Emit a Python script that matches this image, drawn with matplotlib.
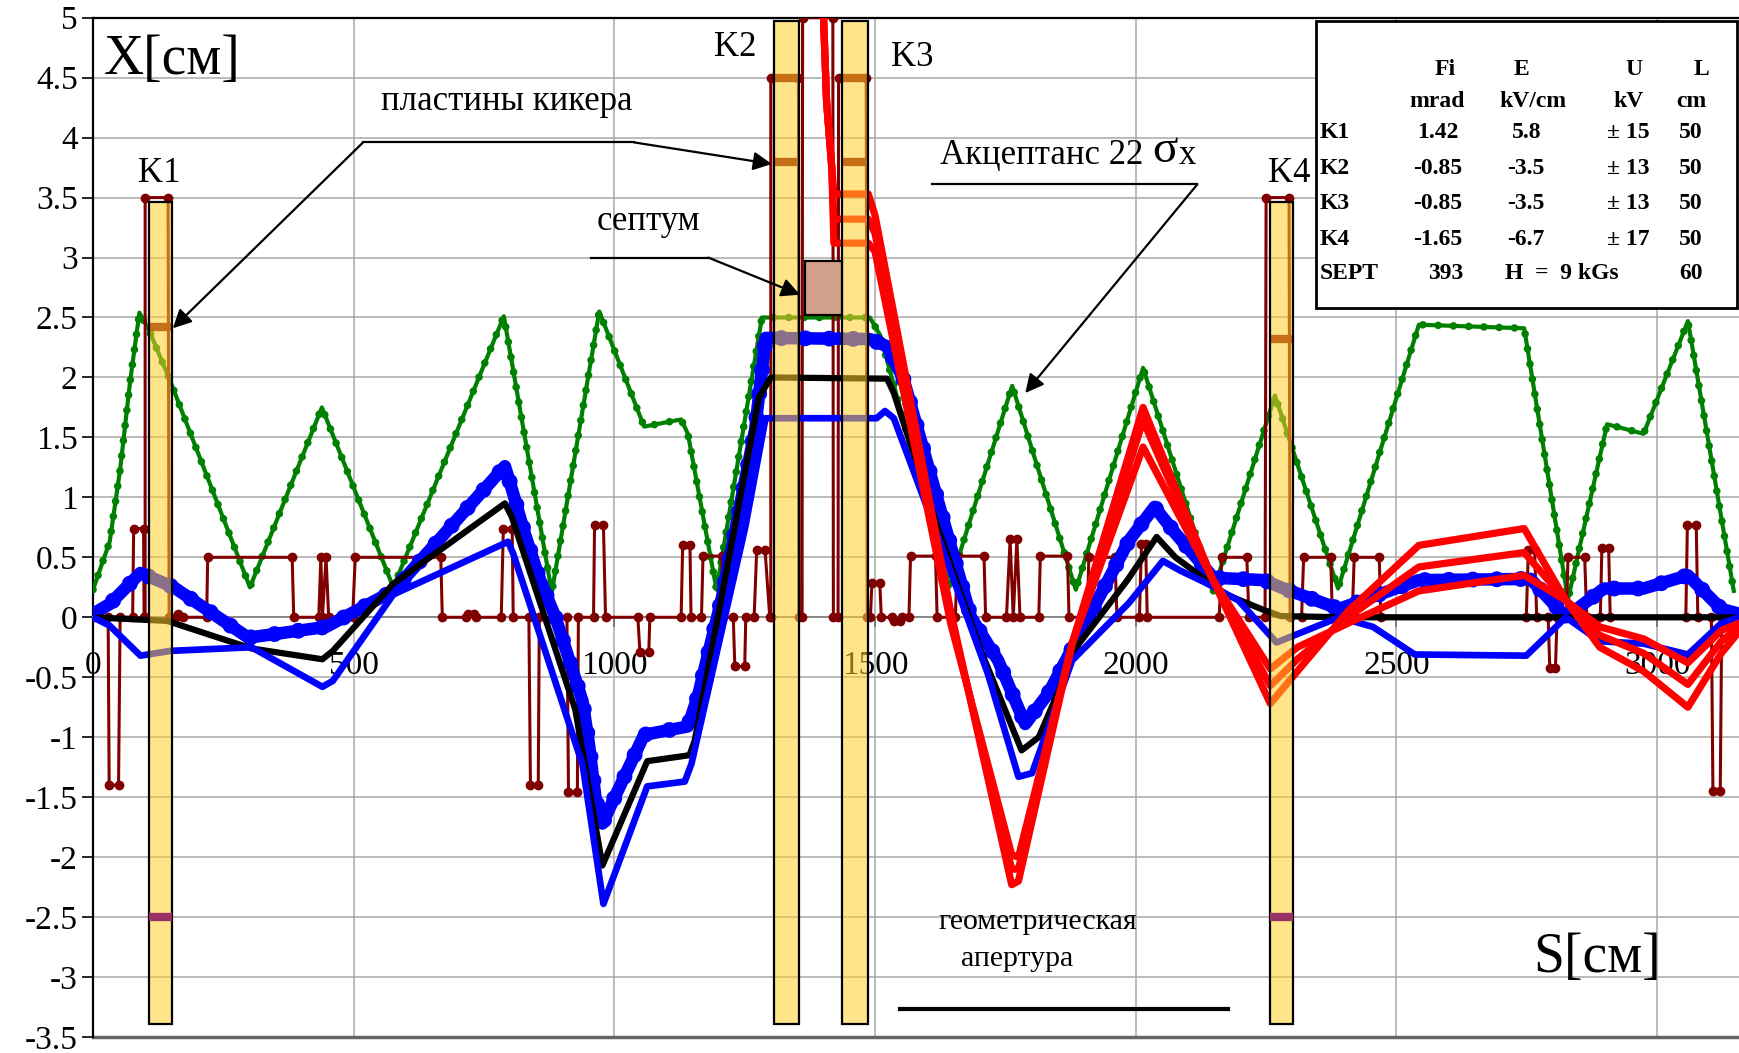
import numpy as np
import matplotlib.pyplot as plt
from matplotlib.patches import Rectangle

plt.rcParams['font.family'] = ['Liberation Serif', 'DejaVu Serif']
plt.rcParams['axes.unicode_minus'] = False

# ---------- данные (S в см, X в см) ----------
# аксептанс 22 sigma_x
acc_s = [0, 32, 52, 71, 89, 107, 149, 301, 439, 576, 788, 880, 971, 1057, 1128, 1141, 1196,
         1283, 1490, 1510, 1642, 1763, 1885, 2014, 2149, 2267, 2388, 2543, 2745, 2829, 2904,
         2974, 3059, 3147]
acc_x = [0.23, 0.63, 1.23, 1.96, 2.54, 2.40, 1.96, 0.25, 1.75, 0.25, 2.51, 0.21, 2.55, 1.59,
         1.65, 1.53, 0.23, 2.50, 2.50, 2.35, 0.25, 1.93, 0.23, 2.08, 0.22, 1.85, 0.24, 2.44,
         2.41, 0.15, 1.61, 1.53, 2.47, 0.22]

# структура (магниты, кикеры, септум)
lat_s = [0, 29, 31, 49, 52, 76, 78, 97, 98, 100, 100, 144, 146, 160, 163, 172, 218, 220, 382,
         385, 433, 437, 440, 447, 452, 498, 503, 667, 670, 716, 720, 731, 735, 783, 787, 804,
         806, 836, 839, 854, 856, 909, 912, 929, 931, 960, 962, 979, 983, 1045, 1049, 1066,
         1068, 1128, 1131, 1145, 1147, 1167, 1170, 1206, 1208, 1228, 1231, 1250, 1252, 1268,
         1273, 1289, 1298, 1300, 1300, 1353, 1354, 1360, 1361, 1419, 1420, 1429, 1430, 1483,
         1485, 1491, 1494, 1509, 1512, 1533, 1537, 1547, 1551, 1565, 1568, 1616, 1619, 1654,
         1658, 1709, 1712, 1752, 1759, 1765, 1772, 1778, 1814, 1817, 1869, 1872, 1907, 1910,
         1960, 1964, 2007, 2011, 2019, 2022, 2160, 2165, 2213, 2217, 2248, 2250, 2294, 2296,
         2318, 2322, 2374, 2377, 2415, 2419, 2467, 2470, 2749, 2753, 2765, 2769, 2791, 2794,
         2805, 2808, 2826, 2829, 2861, 2865, 2891, 2894, 2907, 2910, 3055, 3058, 3075, 3078,
         3104, 3107, 3121, 3124, 3157]
lat_x = [0, 0, -1.40, -1.40, 0, 0, 0.74, 0.74, 0, 0, 3.5, 3.5, 0, 0, 0.03, 0, 0, 0.5, 0.5,
         0, 0, 0.5, 0, 0.5, 0, 0, 0.5, 0.5, 0, 0, 0.03, 0.03, 0, 0, 0.74, 0.74,
         0, 0, -1.40, -1.40, 0, 0, -1.46, -1.46, 0, 0, 0.77, 0.77, 0, 0, -0.29, -0.29,
         0, 0, 0.6, 0.6, 0, 0, 0.51, 0.51, 0, 0, -0.41, -0.41, 0, 0,
         0.56, 0.56, 0, 0, 4.5, 4.5, 0, 0, 5.0, 5.0, 0, 0, 4.5, 4.5,
         0, 0, 0.29, 0.29, 0, 0, -0.03, -0.03, 0, 0, 0.51, 0.51, 0, 0,
         0.51, 0.51, 0, 0, 0.65, 0, 0.65, 0, 0, 0.51, 0.51, 0, 0, 0.5,
         0.5, 0, 0, 0.61, 0.61, 0, 0, 0.5, 0.5, 0, 0, 3.5, 3.5, 0,
         0, 0.5, 0.5, 0, 0, 0.5, 0.5, 0, 0, 0.56, 0.56, 0, 0, -0.42,
         -0.42, 0, 0, 0.5, 0.5, 0, 0, 0.58, 0.58, 0, 0, 0.77, 0.77, 0,
         0, -1.45, -1.45, 0, 0]

# центральная орбита
orb_s = [0, 142, 304, 440, 460, 576, 790, 803, 925, 977, 1063, 1144, 1154, 1277, 1300, 1523,
         1536, 1620, 1704, 1781, 1814, 1891, 1984, 2040, 2076, 2173, 2246, 2278, 2400, 3157]
orb_x = [0, -0.03, -0.26, -0.35, -0.28, 0.28, 0.95, 0.84, -0.77, -2.07, -1.2, -1.15, -1.03,
         1.83, 2.0, 1.99, 1.87, 0.75, -0.29, -1.11, -1.0, -0.22, 0.31, 0.67, 0.5, 0.19, 0.06,
         0.01, 0, 0]

# огибающие пучка (синие)
env1_s = [0, 32, 91, 155, 298, 447, 576, 790, 800, 828, 854, 887, 913, 939, 951, 964, 977,
          1057, 1141, 1160, 1206, 1270, 1290, 1490, 1523, 1555, 1620, 1684, 1736, 1788, 1833,
          1987, 2036, 2076, 2149, 2246, 2278, 2390, 2543, 2757, 2825, 2898, 2974, 3059, 3123,
          3157]
env1_x = [0.03, 0.11, 0.37, 0.25, -0.17, -0.08, 0.22, 1.26, 1.12, 0.70, 0.35, 0.0, -0.35,
          -0.70, -1.05, -1.51, -1.72, -0.98, -0.91, -0.66, 0.16, 1.57, 2.33, 2.32, 2.26, 1.98,
          0.98, 0.0, -0.36, -0.89, -0.63, 0.64, 0.92, 0.70, 0.33, 0.31, 0.25, 0.07, 0.31, 0.32,
          0.0, 0.24, 0.24, 0.35, 0.07, 0.03]
env2_s = [0, 32, 91, 149, 304, 440, 460, 576, 796, 806, 939, 979, 1063, 1135, 1148, 1251,
          1290, 1503, 1519, 1536, 1620, 1717, 1775, 1801, 1878, 1987, 2052, 2085, 2133, 2197,
          2270, 2310, 2390, 2455, 2535, 2749, 2825, 2890, 2974, 3059, 3123, 3157]
env2_x = [0, -0.07, -0.32, -0.28, -0.25, -0.58, -0.53, 0.19, 0.63, 0.53, -1.23, -2.39,
          -1.41, -1.37, -1.22, 0.75, 1.66, 1.66, 1.72, 1.66, 0.68, -0.48, -1.33, -1.30, -0.36,
          0.12, 0.47, 0.39, 0.29, 0.14, -0.21, -0.14, 0.0, -0.08, -0.31, -0.32, 0.0, -0.2,
          -0.22, -0.31, -0.05, 0.0]

# выведенные траектории (красные)
ext_s = [1398, 1401, 1407, 1417, 1421, 1436, 1487, 1500, 1645, 1762, 1775, 1878, 2014, 2147,
         2258, 2310, 2407, 2543, 2745, 2825, 2890, 2974, 3059, 3123, 3157]
ext1_x = [5.3, 5.02, 4.3, 3.75, 3.53, 3.53, 3.53, 3.35, 0.05, -2.23, -2.2, -0.22, 1.75, 0.32,
          -0.72, -0.45, 0.05, 0.6, 0.74, 0.14, -0.25, -0.45, -0.75, -0.3, -0.12]
ext2_x = [5.3, 5.02, 4.3, 3.75, 3.32, 3.32, 3.32, 3.2, 0.0, -2.1, -2.1, -0.22, 1.64, 0.32,
          -0.57, -0.35, 0.0, 0.42, 0.54, 0.14, -0.15, -0.30, -0.56, -0.2, -0.08]
ext3_x = [5.3, 5.02, 4.3, 3.75, 3.12, 3.12, 3.12, 3.05, -0.05, -1.98, -2.0, -0.22, 1.42, 0.32,
          -0.43, -0.25, -0.05, 0.22, 0.35, 0.14, -0.08, -0.18, -0.38, -0.11, -0.05]

# кикеры: имя, начало, конец, верх
kick_names = ['K1', 'K2', 'K3', 'K4']
kick_s0 = [107, 1306, 1436, 2257]
kick_s1 = [151, 1354, 1487, 2302]
kick_top = [3.46, 4.97, 4.97, 3.46]
kick_bot = -3.39
plate_hi = [[2.42], [4.5, 3.8], [4.5, 3.8], [2.32]]
plate_lo = [-2.5, None, None, -2.5]
kick_lab_s = [127, 1232, 1571, 2294]
kick_lab_x = [3.70, 4.75, 4.67, 3.70]

# септум
sept_s = (1366, 1436)
sept_x = (2.52, 2.97)

# таблица параметров
tbl_rows = ['K1', 'K2', 'K3', 'K4', 'SEPT']
tbl_fi = ['1.42', '-0.85', '-0.85', '-1.65', '393']
tbl_e = ['5.8', '-3.5', '-3.5', '-6.7', '']
tbl_u = ['± 15', '± 13', '± 13', '± 17', '']
tbl_l = ['50', '50', '50', '50', '60']

# ---------- рисунок ----------
W, H = 1739, 1053
fig = plt.figure(figsize=(W / 100, H / 100), dpi=100)
ax = fig.add_axes([93 / W, 1 - 1037 / H, 1 - 93 / W, (1037 - 17.7) / H])
ax.set_xlim(0, 3157)
ax.set_ylim(-3.5, 5)

ax.set_xticks(np.arange(0, 3001, 500))
ax.set_xticklabels([str(v) for v in range(0, 3001, 500)])
yt = np.arange(-3.5, 5.01, 0.5)
ax.set_yticks(yt)
ax.set_yticklabels([f"{v:g}" for v in yt])
ax.tick_params(axis='both', labelsize=24, direction='out')
ax.tick_params(axis='y', length=8, width=1.2, pad=3)
ax.tick_params(axis='x', length=7, width=1.2, pad=17, color='#707070')
ax.grid(True, color='#a8a8a8', lw=1.1)
ax.set_axisbelow(True)

ax.spines['bottom'].set_position(('data', 0))
ax.spines['bottom'].set_color('#808080')
ax.spines['bottom'].set_linewidth(1.2)
ax.spines['right'].set_visible(False)
ax.spines['top'].set_linewidth(1.6)
ax.spines['left'].set_linewidth(1.6)
ax.axhline(-3.5, color='#666666', lw=2.5, clip_on=False, zorder=2)

# аксептанс
ax.plot(acc_s, acc_x, color='#008000', lw=3, zorder=3)
ax.plot(acc_s, acc_x, color='#008000', lw=5.5, ls=(0, (0.001, 2.0)),
        dash_capstyle='round', zorder=3)

# структура
ax.plot(lat_s, lat_x, color='#800000', lw=2.2, marker='o', ms=6, zorder=4)

# огибающие и орбита
ax.plot(env1_s, env1_x, color='#0000ff', lw=9, solid_joinstyle='round', zorder=5)
ax.plot(env1_s, env1_x, color='#0000ff', lw=11.5, ls=(0, (0.001, 1.5)),
        dash_capstyle='round', zorder=5)
ax.plot(orb_s, orb_x, color='black', lw=4.5, solid_joinstyle='round', zorder=6)
ax.plot(env2_s, env2_x, color='#0000ff', lw=4.8, solid_joinstyle='round', zorder=7)

for ex in (ext1_x, ext2_x, ext3_x):
    ax.plot(ext_s, ex, color='#ff0000', lw=5.2, solid_joinstyle='round', zorder=8)

# пластины кикеров (под полупрозрачной заливкой)
for s0, s1, ys in zip(kick_s0, kick_s1, plate_hi):
    for yv in ys:
        ax.plot([s0, s1], [yv, yv], color='#800000', lw=6, solid_capstyle='butt', zorder=8.5)

for s0, s1, top in zip(kick_s0, kick_s1, kick_top):
    ax.add_patch(Rectangle((s0, kick_bot), s1 - s0, top - kick_bot, facecolor='#ffce2a',
                           alpha=0.55, edgecolor='none', zorder=9))
    ax.add_patch(Rectangle((s0, kick_bot), s1 - s0, top - kick_bot, fill=False,
                           edgecolor='black', lw=1.6, zorder=10))

for s0, s1, yv in zip(kick_s0, kick_s1, plate_lo):
    if yv is not None:
        ax.plot([s0, s1], [yv, yv], color='#993366', lw=6, solid_capstyle='butt', zorder=10)

ax.add_patch(Rectangle((sept_s[0], sept_x[0]), sept_s[1] - sept_s[0], sept_x[1] - sept_x[0],
                       facecolor='#d2a08a', edgecolor='black', lw=1.6, zorder=10))

# подписи
for name, s, x in zip(kick_names, kick_lab_s, kick_lab_x):
    ax.text(s, x, name, fontsize=25, ha='center', va='center', zorder=11)

ax.text(151, 4.65, 'X[см]', fontsize=40, ha='center', va='center', zorder=11)
ax.text(2885, -2.84, 'S[см]', fontsize=40, ha='center', va='center', zorder=11)
ax.text(794, 4.3, 'пластины кикера', fontsize=25, ha='center', va='center', zorder=11)
ax.text(1065, 3.3, 'септум', fontsize=25, ha='center', va='center', zorder=11)
t_acc = ax.text(1625, 3.78, 'Акцептанс 22 ', fontsize=25, ha='left', va='baseline',
                zorder=11)
t_sig = ax.annotate('σ', xy=(1, 0), xycoords=t_acc, fontsize=34, ha='left',
                    va='bottom', zorder=11)
ax.annotate('x', xy=(1, 0), xycoords=t_sig, fontsize=25, ha='left', va='bottom',
            xytext=(1, 0), textcoords='offset points', zorder=11)
ax.text(1813, -2.54, 'геометрическая', fontsize=21.5, ha='center', va='center', zorder=11)
ax.text(1773, -2.85, 'апертура', fontsize=21.5, ha='center', va='center', zorder=11)

arr = dict(arrowstyle='-|>', color='black', lw=1.6, mutation_scale=28, shrinkA=0, shrinkB=0)
ax.plot([518, 1038], [3.96, 3.96], color='black', lw=1.6, zorder=11)
ax.annotate('', xy=(153, 2.41), xytext=(518, 3.96), arrowprops=arr, zorder=11)
ax.annotate('', xy=(1302, 3.78), xytext=(1038, 3.96), arrowprops=arr, zorder=11)
ax.plot([955, 1180], [3.0, 3.0], color='black', lw=1.6, zorder=11)
ax.annotate('', xy=(1356, 2.69), xytext=(1180, 3.0), arrowprops=arr, zorder=11)
ax.plot([1609, 2118], [3.61, 3.61], color='black', lw=1.6, zorder=11)
ax.annotate('', xy=(1788, 1.87), xytext=(2118, 3.61), arrowprops=arr, zorder=11)
ax.plot([1548, 2177], [-3.27, -3.27], color='black', lw=3, zorder=11)

# таблица
ax.add_patch(Rectangle((2346, 2.58), 3157 - 2346 - 4, 4.97 - 2.58, facecolor='white',
                       edgecolor='black', lw=2, zorder=12, clip_on=False))
tk = dict(fontsize=17, fontweight='bold', va='center', zorder=13)
head_s = [2594, 2739, 2956, 3085]
for s, t in zip(head_s, ['Fi', 'E', 'U', 'L']):
    ax.text(s, 4.57, t, ha='center', **tk)
unit_s = [2578, 2762, 2945, 3065]
for s, t in zip(unit_s, ['mrad', 'kV/cm', 'kV', 'cm']):
    ax.text(s, 4.30, t, ha='center', **tk)
row_y = [4.04, 3.74, 3.45, 3.15, 2.87]
for yv, r, fi, e, u, l in zip(row_y, tbl_rows, tbl_fi, tbl_e, tbl_u, tbl_l):
    ax.text(2352, yv, r, ha='left', **tk)
    ax.text(2580 if r != 'SEPT' else 2594, yv, fi, ha='center', **tk)
    if e:
        ax.text(2749, yv, e, ha='center', **tk)
    if u:
        ax.text(2945, yv, u, ha='center', **tk)
    ax.text(3064, yv, l, ha='center', **tk)
ax.text(2818, 2.87, 'H  =  9 kGs', ha='center', **tk)

fig.savefig('out.png', dpi=100)
